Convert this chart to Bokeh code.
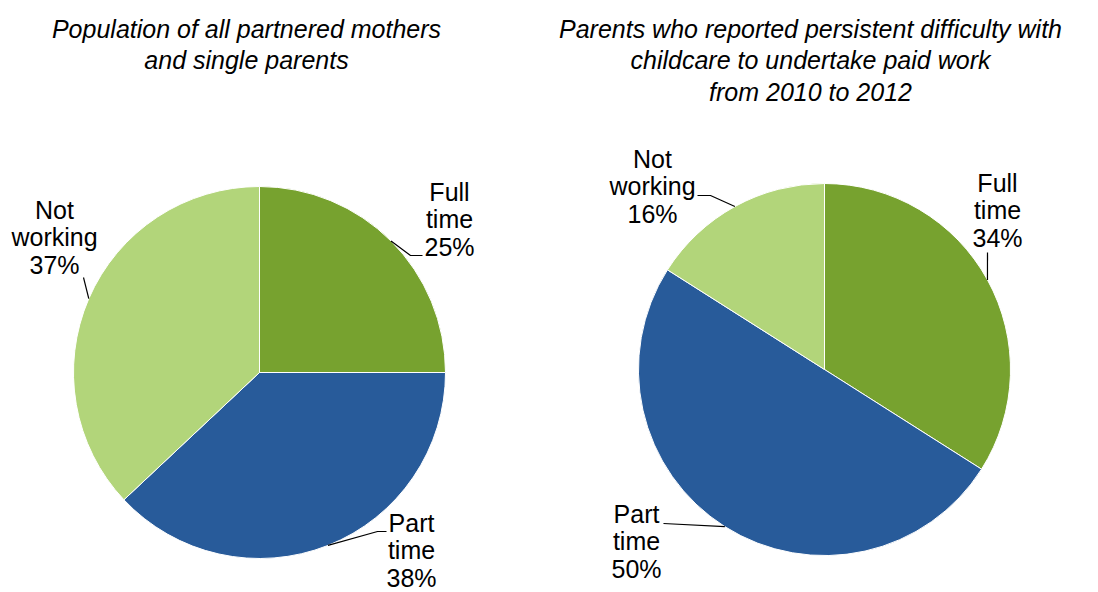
import math
from bokeh.plotting import figure
from bokeh.models import Range1d
from bokeh.core.properties import value
from bokeh.embed import file_html
from bokeh.resources import INLINE

# ---- data ----
categories = ["Full time", "Part time", "Not working"]
left_values = [25, 38, 37]
right_values = [34, 50, 16]
left_title = ["Population of all partnered mothers", "and single parents"]
right_title = ["Parents who reported persistent difficulty with",
               "childcare to undertake paid work", "from 2010 to 2012"]
colors = ["#77A22F", "#285B9A", "#B2D57A"]

# ---- layout (page pixel coords) ----
W, H = 1082, 592
TEXT_DY = 9  # renderer places text lower than the requested baseline
def X(px):
    return px
def Y(py):
    return H - py
def YT(py):
    return H - py + TEXT_DY

FONT = value("Liberation Sans")
FS = "25px"
LINE = 27.5

p = figure(width=W, height=H, x_range=Range1d(0, W), y_range=Range1d(0, H),
           output_backend="svg", toolbar_location=None, min_border=0,
           x_axis_type=None, y_axis_type=None)
p.grid.visible = False
p.outline_line_color = None
p.background_fill_color = "white"
p.border_fill_color = "white"

pies = [
    dict(cx=259, cy=372, r=186, values=left_values, title=left_title, tx=246,
         labels={"Full time": dict(tx=449, ty=200, path=[(410, 255), (422, 255)]),
                 "Part time": dict(tx=411, ty=531, path=[(377, 531), (386, 531)]),
                 "Not working": dict(tx=54, ty=218, path=[(83, 277)])}),
    dict(cx=824, cy=369, r=186, values=right_values, title=right_title, tx=810,
         labels={"Full time": dict(tx=997, ty=191, path=[(987, 252)]),
                 "Part time": dict(tx=636, ty=522, path=[(663, 523)]),
                 "Not working": dict(tx=652, ty=167, path=[(710, 195), (697, 195)])}),
]

for pie in pies:
    vals = pie["values"]
    tot = float(sum(vals))
    cum = [0.0]
    for v in vals:
        cum.append(cum[-1] + v / tot)
    starts = [math.pi / 2 - 2 * math.pi * c for c in cum[:-1]]
    ends = [math.pi / 2 - 2 * math.pi * c for c in cum[1:]]
    cx, cy, r = X(pie["cx"]), Y(pie["cy"]), pie["r"]
    p.wedge(x=[cx] * len(vals), y=[cy] * len(vals), radius=r,
            start_angle=starts, end_angle=ends, direction="clock",
            fill_color=colors, line_color="white", line_width=1)

    # leaders and labels
    xs_l, ys_l = [], []
    tx, ty, tt = [], [], []
    for i, cat in enumerate(categories):
        mid = (cum[i] + cum[i + 1]) / 2
        a = math.pi / 2 - 2 * math.pi * mid
        ex, ey = cx + r * math.cos(a), cy + r * math.sin(a)
        lay = pie["labels"][cat]
        xs_l.append([ex] + [X(q[0]) for q in lay["path"]])
        ys_l.append([ey] + [Y(q[1]) for q in lay["path"]])
        lines = cat.split(" ") + [f"{vals[i]}%"]
        for k, ln in enumerate(lines):
            tx.append(X(lay["tx"]))
            ty.append(YT(lay["ty"] + k * LINE))
            tt.append(ln)
    p.multi_line(xs=xs_l, ys=ys_l, line_color="black", line_width=1.2)
    p.text(x=tx, y=ty, text=tt, text_align="center", text_baseline="alphabetic",
           text_font=FONT, text_font_size=FS, text_color="black")

    # title
    ttl = pie["title"]
    p.text(x=[X(pie["tx"])] * len(ttl), y=[YT(37 + k * 31.5) for k in range(len(ttl))],
           text=ttl, text_align="center", text_baseline="alphabetic",
           text_font=FONT, text_font_style="italic", text_font_size=FS,
           text_color="black")

open("out.html", "w").write(file_html(p, INLINE))
